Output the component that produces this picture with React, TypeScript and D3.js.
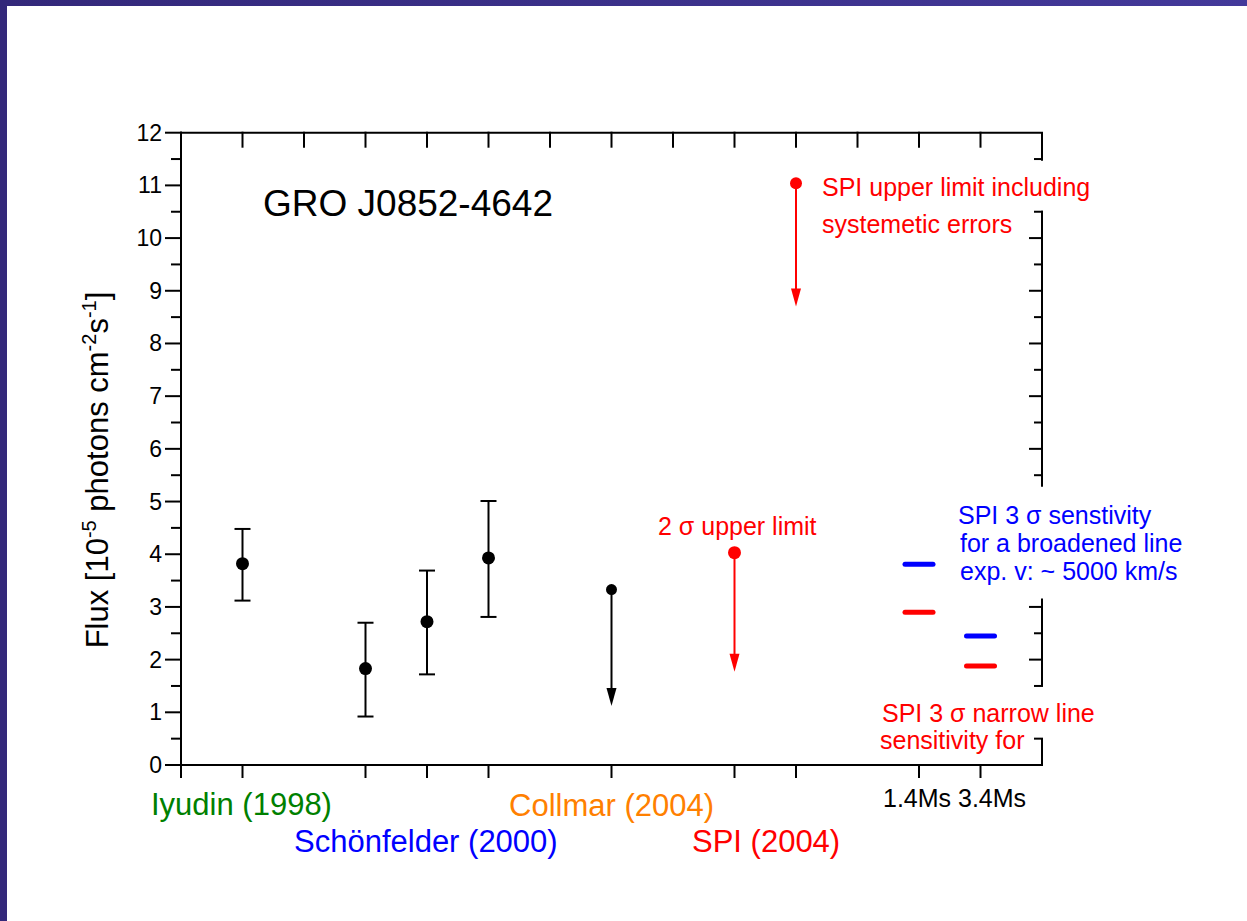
import React from "react";
import * as d3 from "d3";

// ---- data ----
const detX = [1, 3, 4, 5];
const detY = [3.82, 1.83, 2.72, 3.93];
const detLo = [3.12, 0.92, 1.72, 2.81];
const detHi = [4.48, 2.7, 3.69, 5.01];

const ulX = [7, 9, 10];
const ulY = [3.33, 4.03, 11.04];
const ulTo = [1.12, 1.77, 8.7];
const ulColor = ["#000000", "#ff0000", "#ff0000"];
const ulR = [5.5, 6.5, 6];

const sensX = [12, 12, 13, 13];
const sensY = [3.81, 2.9, 2.45, 1.88];
const sensColor = ["#0000ff", "#ff0000", "#0000ff", "#ff0000"];

const yMajor = [0, 1, 2, 3, 4, 5, 6, 7, 8, 9, 10, 11, 12];
const yMinor = [0.5, 1.5, 2.5, 3.5, 4.5, 5.5, 6.5, 7.5, 8.5, 9.5, 10.5, 11.5];
const bottomTicks = [0, 1, 3, 4, 5, 7, 9, 10, 12, 13];
const topTicks = [1, 2, 3, 4, 5, 6, 7, 8, 9, 10, 11, 12, 13];
// visible pieces of the right axis (value ranges), gaps hidden behind text boxes
const rightSegments = [[11.47, 12], [5.28, 10.52], [1.5, 3.16], [0, 0.51]];

const catLabels = [
  { text: "Iyudin (1998)", color: "#008000" },
  { text: "Schönfelder (2000)", color: "#0000ff" },
  { text: "Collmar (2004)", color: "#ff8000" },
  { text: "SPI (2004)", color: "#ff0000" },
];

const FONT = "'Liberation Sans', Arial, Helvetica, sans-serif";

export default function App() {
  const W = 1247, H = 921;
  const x = d3.scaleLinear().domain([0, 14]).range([181, 1042]);
  const y = d3.scaleLinear().domain([0, 12]).range([765, 132.7]);
  const sw = 2;

  return (
    <div style={{ position: "absolute", left: 0, top: 0, width: W, height: H }}>
      <svg width={W} height={H} style={{ display: "block", background: "#fff" }}>
        <defs>
          <linearGradient id="topbar" x1="0" x2="1" y1="0" y2="0">
            <stop offset="0" stopColor="#33287a" />
            <stop offset="1" stopColor="#43399a" />
          </linearGradient>
        </defs>
        <rect x={0} y={0} width={W} height={H} fill="#fff" />
        <rect x={0} y={0} width={W} height={6} fill="url(#topbar)" />
        <rect x={0} y={0} width={7} height={H} fill="#33287a" />

        <g fill="none" stroke="#000" strokeWidth={sw} strokeLinecap="square">
          {/* left axis */}
          <line x1={x(0)} x2={x(0)} y1={y(12)} y2={y(0)} />
          {yMajor.map((v) => (
            <line key={"lm" + v} x1={x(0) - 15} x2={x(0)} y1={y(v)} y2={y(v)} />
          ))}
          {yMinor.map((v) => (
            <line key={"ln" + v} x1={x(0) - 9} x2={x(0)} y1={y(v)} y2={y(v)} />
          ))}
          {/* bottom axis */}
          <line x1={x(0)} x2={x(14)} y1={y(0)} y2={y(0)} />
          {bottomTicks.map((v) => (
            <line key={"b" + v} x1={x(v)} x2={x(v)} y1={y(0)} y2={y(0) + 12} />
          ))}
          {/* top axis */}
          <line x1={x(0)} x2={x(14)} y1={y(12)} y2={y(12)} />
          {topTicks.map((v) => (
            <line key={"t" + v} x1={x(v)} x2={x(v)} y1={y(12)} y2={y(12) + 14} />
          ))}
          {/* right axis (broken) */}
          {rightSegments.map(([a, b], i) => (
            <line key={"rs" + i} x1={x(14)} x2={x(14)} y1={y(b)} y2={y(a)} strokeLinecap="butt" />
          ))}
          {yMajor.filter((v) => rightSegments.some(([a, b]) => v >= a - 0.02 && v <= b + 0.02) && v > 0 && v < 12).map((v) => (
            <line key={"rm" + v} x1={x(14) - 12} x2={x(14)} y1={y(v)} y2={y(v)} />
          ))}
          {yMinor.filter((v) => rightSegments.some(([a, b]) => v >= a - 0.02 && v <= b + 0.02)).map((v) => (
            <line key={"rn" + v} x1={x(14) - 7} x2={x(14)} y1={y(v)} y2={y(v)} />
          ))}
        </g>

        {/* y tick labels */}
        <g fontFamily={FONT} fontSize={23} fill="#000" textAnchor="end">
          {yMajor.map((v) => (
            <text key={"yl" + v} x={x(0) - 19} y={y(v) + 8}>{v}</text>
          ))}
        </g>

        {/* detections with error bars */}
        <g stroke="#000" strokeWidth={sw}>
          {detX.map((d, i) => (
            <g key={"d" + i}>
              <line x1={x(d)} x2={x(d)} y1={y(detLo[i])} y2={y(detHi[i])} />
              <line x1={x(d) - 8} x2={x(d) + 8} y1={y(detLo[i])} y2={y(detLo[i])} />
              <line x1={x(d) - 8} x2={x(d) + 8} y1={y(detHi[i])} y2={y(detHi[i])} />
              <circle cx={x(d)} cy={y(detY[i])} r={6.5} fill="#000" stroke="none" />
            </g>
          ))}
        </g>

        {/* upper limits */}
        {ulX.map((d, i) => {
          const cx = x(d);
          const tip = y(ulTo[i]);
          const c = ulColor[i];
          return (
            <g key={"u" + i}>
              <line x1={cx} x2={cx} y1={y(ulY[i])} y2={tip - 12} stroke={c} strokeWidth={sw} />
              <path d={`M${cx - 5},${tip - 18} L${cx + 5},${tip - 18} L${cx},${tip} Z`} fill={c} />
              <circle cx={cx} cy={y(ulY[i])} r={ulR[i]} fill={c} />
            </g>
          );
        })}

        {/* sensitivity markers */}
        {sensX.map((d, i) => (
          <line key={"s" + i} x1={x(d) - 14} x2={x(d) + 14} y1={y(sensY[i])} y2={y(sensY[i])}
            stroke={sensColor[i]} strokeWidth={5} strokeLinecap="round" />
        ))}

        {/* title */}
        <text x={263} y={216} fontFamily={FONT} fontSize={37} fill="#000">GRO J0852-4642</text>

        {/* annotations */}
        <g fontFamily={FONT} fontSize={25} fill="#ff0000">
          <text x={822} y={196}>SPI upper limit including</text>
          <text x={822} y={233}>systemetic errors</text>
          <text x={658} y={535}>2 σ upper limit</text>
          <text x={882} y={722}>SPI 3 σ narrow line</text>
          <text x={880} y={749}>sensitivity for</text>
        </g>
        <g fontFamily={FONT} fontSize={25} fill="#0000ff">
          <text x={958} y={524}>SPI 3 σ senstivity</text>
          <text x={960} y={552}>for a broadened line</text>
          <text x={960} y={580}>exp. v: ~ 5000 km/s</text>
        </g>
        <text x={883} y={807} fontFamily={FONT} fontSize={25} fill="#000">1.4Ms 3.4Ms</text>

        {/* category labels */}
        <g fontFamily={FONT} fontSize={31}>
          <text x={151} y={815} fill={catLabels[0].color}>{catLabels[0].text}</text>
          <text x={294} y={852} fill={catLabels[1].color}>{catLabels[1].text}</text>
          <text x={509} y={816} fill={catLabels[2].color}>{catLabels[2].text}</text>
          <text x={692} y={852} fill={catLabels[3].color}>{catLabels[3].text}</text>
        </g>

        {/* y axis title */}
        <text transform="translate(108,470) rotate(-90)" textAnchor="middle" fontFamily={FONT} fontSize={31} fill="#000">
          Flux [10<tspan fontSize={20} dy={-12}>-5</tspan>
          <tspan dy={12}> photons cm</tspan>
          <tspan fontSize={20} dy={-12}>-2</tspan>
          <tspan dy={12}>s</tspan>
          <tspan fontSize={20} dy={-12}>-1</tspan>
          <tspan dy={12}>]</tspan>
        </text>
      </svg>
    </div>
  );
}
